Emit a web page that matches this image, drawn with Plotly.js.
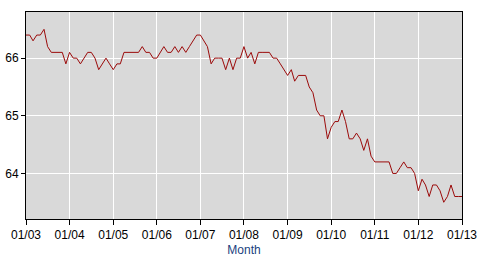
<!DOCTYPE html>
<html>
<head>
<meta charset="utf-8">
<script src="https://cdn.plot.ly/plotly-3.0.1.min.js"></script>
<style>html,body{margin:0;padding:0;background:#fff}#chart{width:480px;height:261px}</style>
</head>
<body>
<div id="chart"></div>
<script>
const startYear = 2003;
const rate2003 = [66.4, 66.4, 66.3, 66.4, 66.4, 66.5, 66.2, 66.1, 66.1, 66.1, 66.1, 65.9];
const rate2004 = [66.1, 66.0, 66.0, 65.9, 66.0, 66.1, 66.1, 66.0, 65.8, 65.9, 66.0, 65.9];
const rate2005 = [65.8, 65.9, 65.9, 66.1, 66.1, 66.1, 66.1, 66.1, 66.2, 66.1, 66.1, 66.0];
const rate2006 = [66.0, 66.1, 66.2, 66.1, 66.1, 66.2, 66.1, 66.2, 66.1, 66.2, 66.3, 66.4];
const rate2007 = [66.4, 66.3, 66.2, 65.9, 66.0, 66.0, 66.0, 65.8, 66.0, 65.8, 66.0, 66.0];
const rate2008 = [66.2, 66.0, 66.1, 65.9, 66.1, 66.1, 66.1, 66.1, 66.0, 66.0, 65.9, 65.8];
const rate2009 = [65.7, 65.8, 65.6, 65.7, 65.7, 65.7, 65.5, 65.4, 65.1, 65.0, 65.0, 64.6];
const rate2010 = [64.8, 64.9, 64.9, 65.1, 64.9, 64.6, 64.6, 64.7, 64.6, 64.4, 64.6, 64.3];
const rate2011 = [64.2, 64.2, 64.2, 64.2, 64.2, 64.0, 64.0, 64.1, 64.2, 64.1, 64.1, 64.0];
const rate2012 = [63.7, 63.9, 63.8, 63.6, 63.8, 63.8, 63.7, 63.5, 63.6, 63.8, 63.6, 63.6];
const rate2013 = [63.6];
const tickLabels = ['01/03','01/04','01/05','01/06','01/07','01/08','01/09','01/10','01/11','01/12','01/13'];
const yTicks = [64, 65, 66];

const years = [rate2003, rate2004, rate2005, rate2006, rate2007, rate2008, rate2009, rate2010, rate2011, rate2012, rate2013];
const x = [], y = [];
years.forEach((arr, i) => {
  arr.forEach((v, m) => {
    x.push((startYear + i) + '-' + String(m + 1).padStart(2, '0') + '-01');
    y.push(v);
  });
});
const tickVals = tickLabels.map((t, i) => (startYear + i) + '-01-01');

const trace = {
  x: x, y: y, type: 'scatter', mode: 'lines',
  line: {color: '#9b0a0a', width: 1},
  hoverinfo: 'skip'
};
const layout = {
  width: 480, height: 261,
  margin: {l: 26, r: 18, t: 12, b: 42, pad: 0},
  paper_bgcolor: '#ffffff',
  plot_bgcolor: '#d9d9d9',
  showlegend: false,
  font: {family: 'Liberation Sans, Arial, sans-serif', size: 12, color: '#000'},
  xaxis: {
    type: 'date',
    range: [tickVals[0], tickVals[tickVals.length - 1]],
    tickvals: tickVals, ticktext: tickLabels,
    ticks: 'outside', ticklen: 5, tickcolor: '#000', tickwidth: 1,
    showgrid: true, gridcolor: '#ffffff', gridwidth: 1,
    showline: true, linecolor: '#000', linewidth: 1, mirror: true,
    zeroline: false,
    tickfont: {size: 12, color: '#000'},
    title: {text: 'Month', font: {size: 12, color: '#1b3f80'}, standoff: 4}
  },
  yaxis: {
    range: [63.21, 66.8],
    tickvals: yTicks, ticktext: yTicks.map(String),
    ticks: 'outside', ticklen: 4, tickcolor: '#000', tickwidth: 1,
    showgrid: true, gridcolor: '#ffffff', gridwidth: 1,
    showline: true, linecolor: '#000', linewidth: 1, mirror: true,
    zeroline: false,
    tickfont: {size: 12, color: '#000'}
  }
};
Plotly.newPlot('chart', [trace], layout, {staticPlot: true, displayModeBar: false});
</script>
</body>
</html>
